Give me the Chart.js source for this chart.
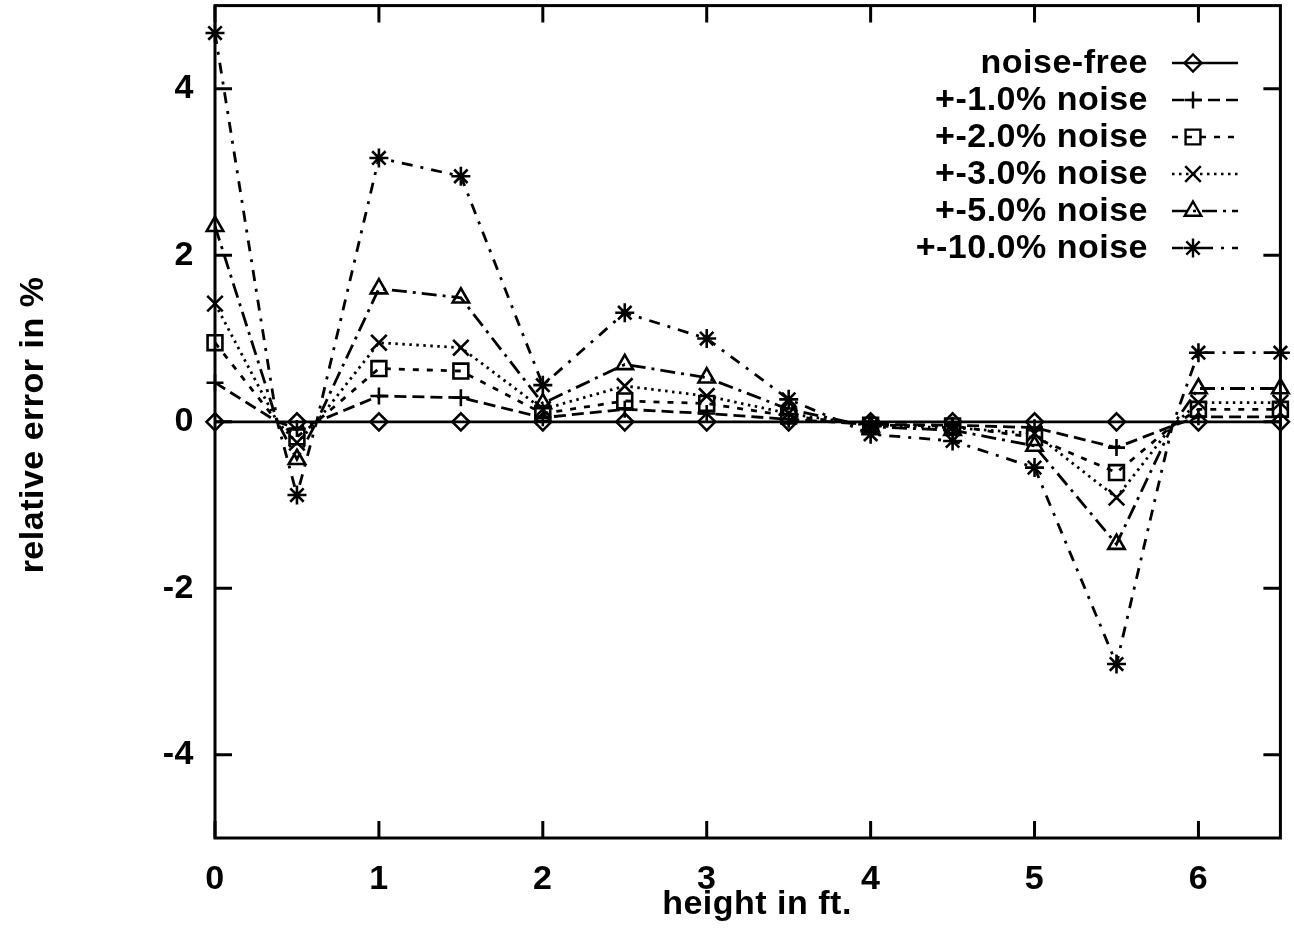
<!DOCTYPE html>
<html>
<head>
<meta charset="utf-8">
<title>relative error vs height</title>
<script src="https://cdn.jsdelivr.net/npm/chart.js@4.4.1/dist/chart.umd.min.js"></script>
<style>
  html, body { margin: 0; padding: 0; background: #fff; overflow: hidden; }
  /* canvas is a little taller and lifted, so the plot frame sits near the top edge */
  #wrap { position: absolute; left: 0; top: -8px; width: 1294px; height: 948px; }
</style>
</head>
<body>
<div id="wrap"><canvas id="chart"></canvas></div>
<script>
// x positions (ft); 0.38, 0.62 and 5.84 are the unmarked zero crossings seen in the plot
const heights = [0, 0.38, 0.5, 0.62, 1, 1.5, 2, 2.5, 3, 3.5, 4, 4.5, 5, 5.5, 5.84, 6, 6.5];
const unmarked = [0.38, 0.62, 5.84];

const noiseFree = [0, 0, 0, 0, 0, 0, 0, 0, 0, 0, 0, 0, 0, 0, 0, 0, 0];
const noise1 = [0.47, 0, -0.08, 0, 0.31, 0.29, 0.05, 0.15, 0.10, 0.03, -0.03, -0.04, -0.07, -0.31, -0.05, 0.06, 0.06];
const noise2 = [0.95, 0, -0.18, 0, 0.64, 0.61, 0.10, 0.25, 0.22, 0.07, -0.04, -0.05, -0.19, -0.61, -0.05, 0.15, 0.15];
const noise3 = [1.42, 0, -0.25, 0, 0.95, 0.89, 0.15, 0.43, 0.31, 0.10, -0.05, -0.07, -0.14, -0.91, -0.05, 0.23, 0.23];
const noise5 = [2.35, 0, -0.45, 0, 1.60, 1.49, 0.22, 0.69, 0.53, 0.15, -0.06, -0.10, -0.29, -1.47, -0.05, 0.40, 0.40];
const noise10 = [4.67, 0, -0.88, 0, 3.17, 2.95, 0.44, 1.31, 1.00, 0.27, -0.15, -0.23, -0.55, -2.91, -0.05, 0.83, 0.83];

const seriesNames = ["noise-free", "+-1.0% noise", "+-2.0% noise", "+-3.0% noise", "+-5.0% noise", "+-10.0% noise"];
const seriesValues = [noiseFree, noise1, noise2, noise3, noise5, noise10];
const seriesMarkers = ["rectRot", "cross", "rect", "crossRot", "triangle", "star"];
const seriesDashes = [[], [12, 6], [6, 8], [2.5, 4.5], [15, 6, 3, 6], [11, 8, 3, 8]];

const xTicks = [0, 1, 2, 3, 4, 5, 6];
const yTicks = [-4, -2, 0, 2, 4];

const FONT = "'Liberation Sans', Arial, Helvetica, sans-serif";
const fontSize = 34;
const OFF = 8; // canvas offset from page top

function markerRadius(style) {
    if (style === "rect") return 10.5;
    if (style === "triangle") return 9.5;
    if (style === "crossRot") return 11;
    if (style === "star") return 9.5;
    return 8.5;
}

const datasets = seriesNames.map((name, i) => ({
    label: name,
    data: heights.map((h, j) => ({ x: h, y: seriesValues[i][j] })),
    borderColor: "#000",
    borderWidth: 2.8,
    borderDash: seriesDashes[i],
    pointStyle: seriesMarkers[i],
    pointRadius: ctx => unmarked.includes(heights[ctx.dataIndex]) ? 0 : markerRadius(seriesMarkers[i]),
    pointBorderWidth: 2.6,
    pointBorderColor: "#000",
    pointBackgroundColor: "rgba(0,0,0,0)",
    tension: 0,
    clip: false
}));

// scanned original has slightly spaced lettering
const spacingPlugin = {
    id: "spacing",
    beforeDraw(chart) { chart.ctx.letterSpacing = "0.5px"; }
};

// frame with inward ticks on all four sides, like the original plot
const framePlugin = {
    id: "frame",
    afterDatasetsDraw(chart) {
        const { ctx, chartArea: a, scales } = chart;
        const len = 17;
        ctx.save();
        ctx.strokeStyle = "#000";
        ctx.lineWidth = 3;
        ctx.setLineDash([]);
        ctx.strokeRect(a.left, a.top, a.right - a.left, a.bottom - a.top);
        ctx.beginPath();
        xTicks.forEach(v => {
            const px = scales.x.getPixelForValue(v);
            ctx.moveTo(px, a.bottom); ctx.lineTo(px, a.bottom - len);
            ctx.moveTo(px, a.top); ctx.lineTo(px, a.top + len);
        });
        yTicks.forEach(v => {
            const py = scales.y.getPixelForValue(v);
            ctx.moveTo(a.left, py); ctx.lineTo(a.left + len, py);
            ctx.moveTo(a.right, py); ctx.lineTo(a.right - len, py);
        });
        ctx.stroke();
        ctx.restore();
    }
};

const titlesPlugin = {
    id: "titles",
    afterDraw(chart) {
        const ctx = chart.ctx;
        ctx.save();
        ctx.fillStyle = "#000";
        ctx.font = "bold " + fontSize + "px " + FONT;
        ctx.textAlign = "center";
        ctx.textBaseline = "alphabetic";
        ctx.fillText("height in ft.", 757, 914 + OFF);
        ctx.translate(43, 425 + OFF);
        ctx.rotate(-Math.PI / 2);
        ctx.fillText("relative error in %", 0, 0);
        ctx.restore();
    }
};

const legendPlugin = {
    id: "keyBox",
    afterDraw(chart) {
        const ctx = chart.ctx;
        const rowY = [63, 100, 137, 174, 211, 248];
        ctx.save();
        ctx.font = "bold " + fontSize + "px " + FONT;
        ctx.textAlign = "right";
        ctx.textBaseline = "middle";
        seriesNames.forEach((name, i) => {
            const y = rowY[i] + OFF;
            ctx.fillStyle = "#000";
            ctx.fillText(name, 1148, y + 1);
            ctx.strokeStyle = "#000";
            ctx.lineWidth = 2.4;
            ctx.setLineDash(seriesDashes[i]);
            ctx.beginPath();
            ctx.moveTo(1172, y);
            ctx.lineTo(1238, y);
            ctx.stroke();
            ctx.setLineDash([]);
            ctx.fillStyle = "rgba(0,0,0,0)";
            Chart.helpers.drawPoint(ctx, {
                pointStyle: seriesMarkers[i],
                radius: markerRadius(seriesMarkers[i]),
                rotation: 0,
                borderWidth: 2.4
            }, 1193, y);
        });
        ctx.restore();
    }
};

new Chart(document.getElementById("chart"), {
    type: "line",
    data: { datasets: datasets },
    options: {
        responsive: true,
        maintainAspectRatio: false,
        animation: false,
        layout: { padding: { left: 0, top: 6, right: 12, bottom: 0 } },
        plugins: {
            legend: { display: false },
            tooltip: { enabled: false }
        },
        scales: {
            x: {
                type: "linear",
                min: 0,
                max: 6.5,
                afterBuildTicks: s => { s.ticks = xTicks.map(v => ({ value: v })); },
                afterFit: s => { s.height = 102; s.paddingLeft = 0; s.paddingRight = 0; },
                grid: { display: false, drawTicks: false },
                border: { display: false },
                ticks: {
                    color: "#000",
                    padding: 21,
                    maxRotation: 0,
                    font: { family: FONT, size: fontSize, weight: "bold" }
                }
            },
            y: {
                type: "linear",
                min: -5,
                max: 5,
                afterBuildTicks: s => { s.ticks = yTicks.map(v => ({ value: v })); },
                afterFit: s => { s.width = 215; s.paddingTop = 0; s.paddingBottom = 0; },
                grid: { display: false, drawTicks: false },
                border: { display: false },
                ticks: {
                    color: "#000",
                    padding: 21,
                    font: { family: FONT, size: fontSize, weight: "bold" }
                }
            }
        }
    },
    plugins: [spacingPlugin, framePlugin, titlesPlugin, legendPlugin]
});
</script>
</body>
</html>
